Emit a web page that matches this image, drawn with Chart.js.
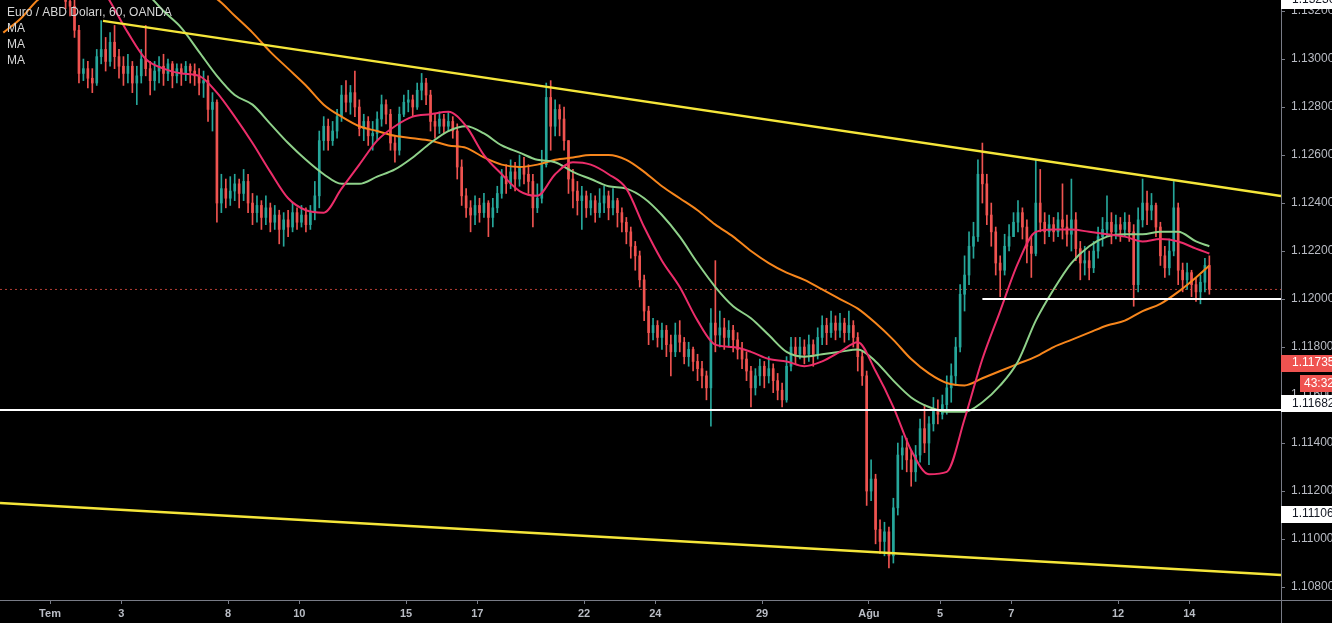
<!DOCTYPE html>
<html><head><meta charset="utf-8">
<script src="https://cdn.jsdelivr.net/npm/chart.js@4.4.1/dist/chart.umd.min.js"></script>
<style>html,body{margin:0;padding:0;background:#000;overflow:hidden}canvas{display:block}</style>
</head><body>
<canvas id="c" width="1332" height="623"></canvas>
<script>
// ---- 3-hour candles, EUR/USD (index 0 = 27 Jun 15:00) ----
const firstOpen = 1.1369;
const closes = [
1.1372,1.1368,1.1366,1.1371,1.1375,1.1370,1.1378,1.1374,1.1370,1.1366,1.1372,
1.1355,1.1345,1.1330,1.1324,1.1322,1.1312,1.1294,1.1296,
1.1292,1.1290,1.1301,1.1304,1.1299,1.1307,1.1301,1.1297,
1.1294,1.1297,1.1290,1.1293,1.1300,1.1296,1.1291,1.1295,
1.1297,1.1294,1.1298,1.1293,1.1296,1.1294,1.1297,1.1295,
1.1293,1.1290,1.1291,1.1279,1.1282,1.1240,1.1246,1.1242,
1.1245,1.1248,1.1244,1.1249,1.1240,1.1236,1.1239,1.1234,
1.1238,1.1232,1.1235,1.1229,1.1233,1.1230,1.1236,1.1232,
1.1235,1.1231,1.1236,1.1243,1.1266,1.1272,1.1266,1.1270,
1.1276,1.1285,1.1282,1.1286,1.1280,1.1271,1.1274,1.1268,
1.1269,1.1275,1.1281,1.1277,1.1265,1.1262,1.1277,1.1282,
1.1283,1.1280,1.1287,1.1290,1.1285,1.1274,1.1272,1.1275,
1.1272,1.1274,1.1270,1.1255,1.1243,1.1238,1.1235,1.1239,
1.1236,1.1240,1.1234,1.1238,1.1244,1.1251,1.1248,1.1253,
1.1250,1.1255,1.1252,1.1249,1.1238,1.1242,1.1256,1.1284,
1.1272,1.1279,1.1275,1.1266,1.1250,1.1245,1.1241,1.1243,
1.1238,1.1241,1.1236,1.1240,1.1243,1.1238,1.1241,1.1236,
1.1232,1.1228,1.1222,1.1218,1.1208,1.1195,1.1186,1.1189,
1.1184,1.1187,1.1181,1.1178,1.1185,1.1182,1.1176,1.1179,
1.1174,1.1171,1.1168,1.1163,1.1190,1.1185,1.1188,1.1184,
1.1187,1.1183,1.1179,1.1175,1.1170,1.1163,1.1168,1.1172,
1.1168,1.1171,1.1166,1.1162,1.1158,1.1172,1.1180,1.1177,
1.1180,1.1177,1.1181,1.1177,1.1184,1.1189,1.1186,1.1190,
1.1187,1.1190,1.1186,1.1189,1.1184,1.1176,1.1168,1.1120,
1.1125,1.1104,1.1099,1.1103,1.1093,1.1113,1.1135,1.1138,
1.1133,1.1128,1.1135,1.1146,1.1140,1.1148,1.1154,1.1152,
1.1156,1.1163,1.1168,1.1180,1.1202,1.1210,1.1222,1.1226,
1.1252,1.1248,1.1235,1.1228,1.1215,1.1212,1.1222,1.1226,
1.1232,1.1236,1.1230,1.1222,1.1219,1.1240,1.1232,1.1228,
1.1231,1.1228,1.1233,1.1230,1.1227,1.1233,1.1221,1.1215,
1.1216,1.1213,1.1220,1.1226,1.1229,1.1232,1.1228,1.1231,
1.1229,1.1232,1.1228,1.1206,1.1233,1.1240,1.1237,1.1239,
1.1230,1.1218,1.1213,1.1220,1.1238,1.1212,1.1208,1.1211,
1.1206,1.1203,1.1207,1.1214,1.1204];
const highs = [
1.1377,1.1374,1.1371,1.1374,1.1380,1.1377,1.1383,1.1380,1.1376,1.1372,1.1375,
1.1366,1.1358,1.1347,1.1332,1.1328,1.1325,1.1314,1.1300,
1.1299,1.1296,1.1304,1.1316,1.1309,1.1311,1.1314,1.1304,
1.1301,1.1302,1.1299,1.1297,1.1304,1.1314,1.1299,1.1299,
1.1301,1.1302,1.1300,1.1299,1.1298,1.1298,1.1299,1.1298,
1.1298,1.1296,1.1295,1.1293,1.1286,1.1283,1.1252,1.1250,
1.1251,1.1252,1.1250,1.1254,1.1252,1.1244,1.1243,1.1241,
1.1243,1.1240,1.1239,1.1237,1.1236,1.1237,1.1240,1.1238,
1.1239,1.1238,1.1239,1.1249,1.1270,1.1276,1.1275,1.1274,
1.1279,1.1289,1.1291,1.1289,1.1295,1.1283,1.1277,1.1276,
1.1274,1.1278,1.1285,1.1283,1.1279,1.1268,1.1280,1.1285,
1.1287,1.1285,1.1290,1.1294,1.1292,1.1287,1.1277,1.1278,
1.1277,1.1278,1.1276,1.1273,1.1258,1.1246,1.1241,1.1243,
1.1242,1.1244,1.1241,1.1242,1.1247,1.1254,1.1256,1.1258,
1.1257,1.1260,1.1259,1.1256,1.1252,1.1248,1.1262,1.1290,
1.1291,1.1283,1.1281,1.1280,1.1266,1.1254,1.1249,1.1247,
1.1245,1.1244,1.1243,1.1246,1.1247,1.1245,1.1246,1.1242,
1.1238,1.1234,1.1230,1.1224,1.1220,1.1210,1.1197,1.1192,
1.1191,1.1190,1.1189,1.1185,1.1190,1.1191,1.1184,1.1182,
1.1180,1.1177,1.1174,1.1170,1.1196,1.1216,1.1195,1.1192,
1.1191,1.1189,1.1186,1.1182,1.1178,1.1172,1.1171,1.1175,
1.1174,1.1176,1.1173,1.1169,1.1165,1.1176,1.1184,1.1184,
1.1184,1.1183,1.1185,1.1183,1.1188,1.1193,1.1192,1.1195,
1.1193,1.1194,1.1192,1.1195,1.1191,1.1186,1.1178,1.1170,
1.1133,1.1127,1.1108,1.1107,1.1105,1.1117,1.1140,1.1143,
1.1142,1.1137,1.1139,1.1150,1.1156,1.1151,1.1159,1.1158,
1.1160,1.1168,1.1173,1.1184,1.1206,1.1218,1.1228,1.1232,
1.1258,1.1265,1.1252,1.1240,1.1230,1.1218,1.1227,1.1231,
1.1236,1.1241,1.1238,1.1233,1.1226,1.1258,1.1254,1.1236,
1.1235,1.1234,1.1236,1.1248,1.1235,1.1250,1.1236,1.1224,
1.1222,1.1220,1.1224,1.1230,1.1234,1.1243,1.1236,1.1235,
1.1234,1.1236,1.1235,1.1231,1.1238,1.1250,1.1245,1.1244,
1.1240,1.1232,1.1222,1.1225,1.1249,1.1240,1.1215,1.1215,
1.1212,1.1209,1.1210,1.1217,1.1218];
const lows = [
1.1366,1.1364,1.1360,1.1364,1.1369,1.1366,1.1369,1.1370,1.1365,1.1362,1.1365,
1.1350,1.1340,1.1327,1.1321,1.1318,1.1309,1.1290,1.1291,
1.1288,1.1286,1.1289,1.1298,1.1295,1.1297,1.1296,1.1292,
1.1289,1.1290,1.1286,1.1281,1.1290,1.1293,1.1285,1.1287,
1.1290,1.1289,1.1291,1.1288,1.1290,1.1289,1.1291,1.1290,
1.1289,1.1285,1.1284,1.1274,1.1270,1.1232,1.1236,1.1238,
1.1239,1.1241,1.1238,1.1241,1.1236,1.1231,1.1232,1.1229,
1.1231,1.1228,1.1229,1.1223,1.1222,1.1226,1.1228,1.1229,
1.1230,1.1228,1.1229,1.1233,1.1238,1.1262,1.1262,1.1264,
1.1267,1.1274,1.1278,1.1277,1.1276,1.1268,1.1266,1.1264,
1.1262,1.1266,1.1272,1.1273,1.1262,1.1257,1.1260,1.1276,
1.1278,1.1276,1.1279,1.1283,1.1281,1.1270,1.1267,1.1269,
1.1269,1.1270,1.1267,1.1250,1.1239,1.1234,1.1228,1.1231,
1.1232,1.1234,1.1226,1.1230,1.1236,1.1242,1.1244,1.1246,
1.1245,1.1247,1.1248,1.1244,1.1230,1.1236,1.1240,1.1255,
1.1262,1.1268,1.1268,1.1262,1.1244,1.1238,1.1235,1.1229,
1.1234,1.1235,1.1232,1.1234,1.1236,1.1233,1.1235,1.1230,
1.1228,1.1223,1.1217,1.1212,1.1205,1.1191,1.1181,1.1183,
1.1180,1.1179,1.1176,1.1168,1.1176,1.1178,1.1173,1.1172,
1.1170,1.1166,1.1163,1.1158,1.1147,1.1178,1.1180,1.1179,
1.1180,1.1178,1.1175,1.1171,1.1166,1.1155,1.1160,1.1164,
1.1163,1.1165,1.1161,1.1158,1.1155,1.1157,1.1170,1.1173,
1.1175,1.1173,1.1174,1.1172,1.1175,1.1181,1.1181,1.1184,
1.1183,1.1184,1.1182,1.1183,1.1180,1.1170,1.1164,1.1114,
1.1116,1.1098,1.1094,1.1093,1.1088,1.1090,1.1110,1.1129,
1.1128,1.1122,1.1124,1.1132,1.1136,1.1131,1.1145,1.1148,
1.1150,1.1152,1.1157,1.1164,1.1178,1.1195,1.1206,1.1217,
1.1224,1.1240,1.1231,1.1222,1.1210,1.1201,1.1210,1.1220,
1.1226,1.1228,1.1225,1.1215,1.1209,1.1218,1.1228,1.1223,
1.1226,1.1224,1.1226,1.1225,1.1222,1.1220,1.1216,1.1208,
1.1210,1.1208,1.1211,1.1217,1.1222,1.1226,1.1223,1.1225,
1.1224,1.1226,1.1224,1.1197,1.1203,1.1230,1.1231,1.1233,
1.1226,1.1214,1.1209,1.1210,1.1218,1.1206,1.1203,1.1204,
1.1201,1.1199,1.1198,1.1203,1.1202];

// ---- moving averages, one reading every 4 candles (last one at the final candle) ----
const maPink = [1.1372,1.1373,1.1370,1.1362,1.1350,1.1336,1.1324,1.1311,1.1300,1.1296,
1.1294,1.1293,1.1286,1.1276,1.1265,1.1253,1.1242,1.1237,1.1236,1.1246,
1.1256,1.1266,1.1272,1.1276,1.1277,1.1278,1.1272,1.1260,1.1252,1.1245,
1.1243,1.1252,1.1257,1.1256,1.1252,1.1246,1.1230,1.1216,1.1205,1.1191,
1.1181,1.1180,1.1178,1.1175,1.1174,1.1172,1.1174,1.1178,1.1182,1.1170,
1.1155,1.1137,1.1127,1.1128,1.1150,1.1175,1.1195,1.1215,1.1228,1.1229,
1.1229,1.1228,1.1227,1.1226,1.1224,1.1225,1.1224,1.1221,1.1219];
const maGreen = [1.1362,1.1364,1.1365,1.1363,1.1358,1.1350,1.1342,1.1335,1.1328,
1.1320,1.1313,1.1303,1.1293,1.1285,1.1281,1.1273,1.1265,1.1258,1.1252,1.1248,
1.1248,1.1251,1.1254,1.1259,1.1265,1.1270,1.1272,1.1269,1.1264,1.1261,
1.1258,1.1257,1.1253,1.1250,1.1247,1.1246,1.1242,1.1235,1.1226,1.1215,
1.1205,1.1197,1.1192,1.1185,1.1178,1.1176,1.1177,1.1178,1.1179,1.1174,
1.1166,1.1159,1.1155,1.1153,1.1153,1.1157,1.1164,1.1174,1.1191,1.1204,
1.1215,1.1222,1.1226,1.1227,1.1227,1.1228,1.1228,1.1224,1.1222];
const maOrange = [1.1311,1.1317,1.1325,1.1328,1.1331,1.1333,1.1334,1.1334,1.1333,1.1332,1.1330,1.1328,
1.1325,1.1318,1.1311,1.1303,1.1296,1.1289,1.1281,1.1276,
1.1272,1.1270,1.1268,1.1267,1.1266,1.1264,1.1263,1.1259,1.1256,1.1255,
1.1256,1.1258,1.1259,1.1260,1.1260,1.1258,1.1253,1.1247,1.1242,1.1237,
1.1231,1.1226,1.1220,1.1215,1.1211,1.1208,1.1204,1.1200,1.1196,1.1190,
1.1183,1.1175,1.1169,1.1165,1.1164,1.1167,1.1170,1.1173,1.1176,1.1180,
1.1183,1.1186,1.1189,1.1191,1.1195,1.1198,1.1203,1.1209,1.1214];

// ---- axis ticks (trading-day number from 1 Jul) ----
const dayTicks = [0,2,5,7,10,12,15,17,20,23,25,27,30,32];
const dayLabels = ['Tem','3','8','10','15','17','22','24','29','Ağu','5','7','12','14'];
const priceTicks = [1.108,1.110,1.112,1.114,1.116,1.118,1.120,1.122,1.124,1.126,1.128,1.130,1.132];

// ---- drawings (x in candle index, y in price) ----
const upperTrendX = [22.4, 287.1], upperTrendY = [1.13159, 1.12429];
const lowerTrendX = [-0.74, 287.1], lowerTrendY = [1.11150, 1.10850];
const supportX = [-0.74, 287.1], supportY = [1.11538, 1.11538];
const levelX = [220, 287.1], levelY = [1.1200, 1.1200];
const lastPrice = 1.1204;

// ---- legend + price badges ----
const titleText = 'Euro / ABD Doları, 60, OANDA';
const maNames = ['MA','MA','MA'];
const badgeTexts = ['1.13236','1.11735','43:32','1.11682','1.11106'];
const badgeValues = [1.13248, 1.11735, 1.11650, 1.11567, 1.11106];
const badgeKinds = ['w','r','r','w','w'];

const candleCount = closes.length;
const opens = closes.map((c, i) => i === 0 ? firstOpen : closes[i - 1]);
const UP = '#26a69a', DOWN = '#ef5350';
const candleColors = closes.map((c, i) => c >= opens[i] ? UP : DOWN);
const dayToIndex = d => 10.5 + 8 * d;
const maIndex = j => Math.min(j * 4, candleCount - 1);

const wickData = closes.map((c, i) => ({x: i, y: [Math.min(lows[i], opens[i], c), Math.max(highs[i], opens[i], c)]}));
const bodyData = closes.map((c, i) => ({x: i, y: [opens[i], c]}));
const line = (xs, ys) => xs.map((x, i) => ({x, y: ys[i]}));
const maLine = arr => arr.map((v, j) => ({x: maIndex(j), y: v}));

const bgPlugin = {
  id: 'bg',
  beforeDraw(chart) {
    const ctx = chart.ctx;
    ctx.save(); ctx.fillStyle = '#000'; ctx.fillRect(0, 0, chart.width, chart.height); ctx.restore();
  },
  afterDraw(chart) {
    const ctx = chart.ctx, a = chart.chartArea, ys = chart.scales.y;
    ctx.save();
    ctx.strokeStyle = '#787b86'; ctx.lineWidth = 1;
    ctx.beginPath(); ctx.moveTo(0, a.bottom + 0.5); ctx.lineTo(chart.width, a.bottom + 0.5); ctx.stroke();
    ctx.beginPath(); ctx.moveTo(a.right + 0.5, 0); ctx.lineTo(a.right + 0.5, chart.height); ctx.stroke();
    ctx.font = '12px "Liberation Sans", Arial, sans-serif';
    ctx.fillStyle = '#d6d6d6'; ctx.textBaseline = 'middle'; ctx.textAlign = 'left';
    ctx.fillText(titleText, 7, 13);
    maNames.forEach((t, i) => ctx.fillText(t, 7, 29 + i * 16));
    badgeTexts.forEach((t, i) => {
      const y = ys.getPixelForValue(badgeValues[i]);
      const x0 = t.includes(':') ? a.right + 19 : a.right;
      ctx.fillStyle = badgeKinds[i] === 'w' ? '#ffffff' : '#ef5350';
      ctx.fillRect(x0, Math.round(y - 8), chart.width - x0, 17);
      ctx.fillStyle = badgeKinds[i] === 'w' ? '#131722' : '#ffffff';
      ctx.fillText(t, x0 + (t.includes(':') ? 4 : 11), y + 0.5);
    });
    ctx.restore();
  }
};

new Chart(document.getElementById('c'), {
  type: 'bar',
  data: {
    datasets: [
      {type: 'line', data: line(upperTrendX, upperTrendY), borderColor: '#f5e63a', borderWidth: 2.5, pointRadius: 0, order: 0},
      {type: 'line', data: line(lowerTrendX, lowerTrendY), borderColor: '#f5e63a', borderWidth: 2.5, pointRadius: 0, order: 0},
      {type: 'line', data: line(supportX, supportY), borderColor: '#ffffff', borderWidth: 2, pointRadius: 0, order: 0},
      {type: 'line', data: line(levelX, levelY), borderColor: '#ffffff', borderWidth: 2, pointRadius: 0, order: 0},
      {type: 'line', data: maLine(maPink), borderColor: '#ec2d6a', borderWidth: 2, pointRadius: 0, cubicInterpolationMode: 'monotone', order: 2},
      {type: 'line', data: maLine(maGreen), borderColor: '#8fd18a', borderWidth: 2, pointRadius: 0, cubicInterpolationMode: 'monotone', order: 2},
      {type: 'line', data: maLine(maOrange), borderColor: '#f7861c', borderWidth: 2, pointRadius: 0, cubicInterpolationMode: 'monotone', order: 2},
      {type: 'bar', data: bodyData, backgroundColor: candleColors, barThickness: 2, minBarLength: 1, grouped: false, clip: 0, order: 5},
      {type: 'bar', data: wickData, backgroundColor: candleColors, barThickness: 1, grouped: false, clip: 0, order: 6},
      {type: 'line', data: line(supportX, [lastPrice, lastPrice]), borderColor: 'rgba(200,70,60,0.9)', borderWidth: 1, borderDash: [2, 3], pointRadius: 0, order: 8}
    ]
  },
  options: {
    responsive: false, devicePixelRatio: 1, animation: false,
    layout: {padding: 0},
    plugins: {legend: {display: false}, tooltip: {enabled: false}},
    font: {family: '"Liberation Sans", Arial, sans-serif'},
    scales: {
      x: {
        type: 'linear', min: -0.74, max: 287.1, offset: false,
        afterBuildTicks: s => { s.ticks = dayTicks.map(d => ({value: dayToIndex(d)})); },
        afterFit: s => { s.height = 23; s.paddingLeft = 0; s.paddingRight = 0; },
        ticks: {
          autoSkip: false, maxRotation: 0, padding: 3, color: '#b9bcc4',
          font: {size: 11, family: '"Liberation Sans", Arial, sans-serif', weight: 'bold'},
          callback: (v, i) => dayLabels[i]
        },
        grid: {drawOnChartArea: false, tickLength: 4, color: '#787b86', offset: false},
        border: {display: true, color: '#787b86'}
      },
      y: {
        type: 'linear', position: 'right', min: 1.10746, max: 1.13246,
        afterBuildTicks: s => { s.ticks = priceTicks.map(v => ({value: v})); },
        afterFit: s => { s.width = 51; s.paddingTop = 0; s.paddingBottom = 0; },
        ticks: {
          padding: 6, color: '#b9bcc4',
          font: {size: 12, family: '"Liberation Sans", Arial, sans-serif'},
          callback: v => Number(v).toFixed(5)
        },
        grid: {drawOnChartArea: false, tickLength: 4, color: '#787b86'},
        border: {display: true, color: '#787b86'}
      }
    }
  },
  plugins: [bgPlugin]
});
</script>
</body></html>
